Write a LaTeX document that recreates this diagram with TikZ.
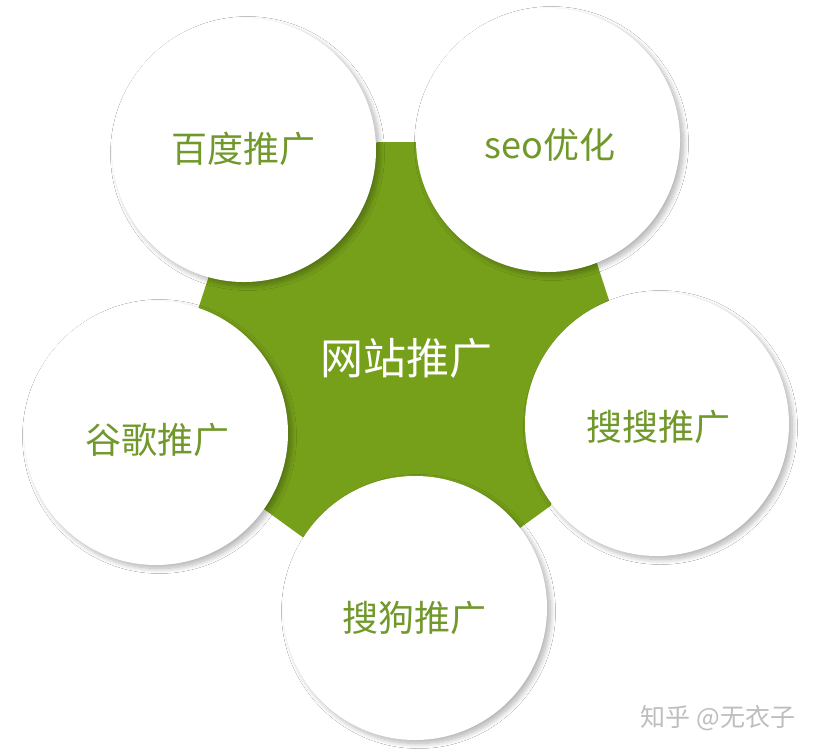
\documentclass[tikz,border=0pt]{standalone}
\usepackage{fontspec}
\setmainfont{Noto Sans CJK SC}
\usetikzlibrary{shadows.blur}
\definecolor{leaf}{RGB}{118,160,26}
\definecolor{leaftext}{RGB}{112,152,42}
\definecolor{markgray}{RGB}{190,190,190}
\begin{document}
\begin{tikzpicture}[x=1pt,y=-1pt,
  bubble/.style={circle, fill=white, minimum size=264pt, inner sep=0pt,
     blur shadow={shadow xshift=3.5pt, shadow yshift=-3.5pt, shadow blur radius=5pt, shadow opacity=30, shadow blur steps=12}},
  bubbletext/.style={text=leaftext, inner sep=0pt, font=\fontsize{36}{42}\selectfont},
  hubtext/.style={text=white, inner sep=0pt, font=\fontsize{43}{50}\selectfont},
  wmtext/.style={text=markgray, inner sep=0pt, font=\fontsize{25}{30}\selectfont}
  ]
\useasboundingbox (0,0) rectangle (816,753);
\fill[white] (0,0) rectangle (816,753);
% green truncated pentagon
\fill[leaf, shift={(405,352)}]
  (-97.46:211.8) -- (-82.54:211.8) -- (-25.46:211.8) -- (-10.54:211.8)
  -- (46.54:211.8) -- (61.46:211.8) -- (118.54:211.8) -- (133.46:211.8)
  -- (190.54:211.8) -- (205.46:211.8) -- cycle;
\node[hubtext] (hub) at (406,358) {网站推广};
% circles
\node[bubble] (baidu) at (244,150) {};
\node[bubble] (seo) at (548,140) {};
\node[bubble] (google) at (156,433) {};
\node[bubble] (soso) at (657,424) {};
\node[bubble] (sogou) at (415,608) {};
\node[bubbletext] (baidut) at (243,149) {百度推广};
\node[bubbletext] (seot) at (550,145) {seo优化};
\node[bubbletext] (googlet) at (157,440) {谷歌推广};
\node[bubbletext] (sosot) at (658,427) {搜搜推广};
\node[bubbletext] (sogout) at (414,618) {搜狗推广};
\node[wmtext] (wm) at (718,718) {知乎 @无衣子};
\end{tikzpicture}
\end{document}
